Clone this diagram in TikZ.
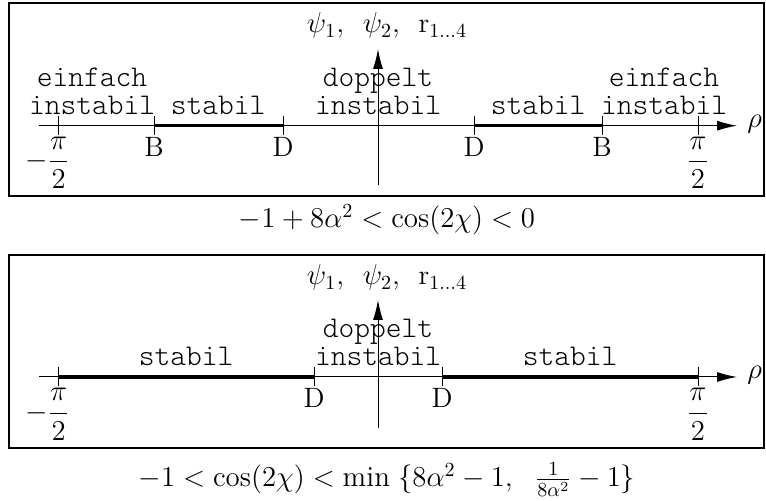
\documentclass[tikz,border=0pt]{standalone}
\usepackage{amsmath}
\usepackage{fontspec}
\newfontfamily\typefont{Latin Modern Mono Light}
\usetikzlibrary{arrows.meta,positioning}

\begin{document}
\begin{tikzpicture}[x=0.5pt, y=-0.5pt,
  panel/.style={draw, line width=0.6pt},
  axis/.style={-{Latex[length=10pt,width=5pt]}, line width=0.5pt},
  stable/.style={line width=1.8pt},
  tick/.style={line width=0.5pt},
  region/.style={align=center, anchor=south, inner sep=0pt,
                 font=\fontsize{15}{14}\typefont},
  ticklabel/.style={inner sep=0pt, font=\fontsize{14}{16}\selectfont},
  axlabel/.style={anchor=base, inner sep=0pt, font=\fontsize{14}{16}\selectfont},
  cond/.style={anchor=base, inner sep=0pt, font=\fontsize{14.5}{16}\selectfont}
]
  \useasboundingbox (0,0) rectangle (766,501);

  % oberes Feld
  \draw[panel] (9,3) rectangle (764,196);
  \coordinate (ax1w) at (39,125.7);
  \coordinate (ax1e) at (737,125.7);
  \coordinate (ay1s) at (378,185);
  \coordinate (ay1n) at (378,49);
  \coordinate (mpi1) at (58.7,125.7);
  \coordinate (b1l) at (154,125.7);
  \coordinate (d1l) at (283,125.7);
  \coordinate (d1r) at (474,125.7);
  \coordinate (b1r) at (602,125.7);
  \coordinate (pi1) at (698,125.7);

  \draw[axis] (ax1w) -- (ax1e);
  \draw[axis] (ay1s) -- (ay1n);
  \draw[stable] (b1l) -- (d1l);
  \draw[stable] (d1r) -- (b1r);
  \foreach \p in {mpi1,b1l,d1l,d1r,b1r,pi1}
    \draw[tick] (\p) ++(0,-9.5) -- ++(0,19);

  \node[anchor=west, inner sep=0pt, font=\fontsize{15}{16}\selectfont] (rho1) at (747,124) {$\rho$};
  \node[axlabel] (psi1) at (387,33) {$\psi_1,\ \,\psi_2,\ \,\mathrm{r}_{1\ldots4}$};

  \node[ticklabel, below=5.5pt of mpi1] (lmpi1) {\llap{$-$}$\dfrac{\pi}{2}$};
  \node[ticklabel, below=5.5pt of b1l] (lb1l) {B};
  \node[ticklabel, below=5.5pt of d1l] (ld1l) {D};
  \node[ticklabel, below=5.5pt of d1r] (ld1r) {D};
  \node[ticklabel, below=5.5pt of b1r] (lb1r) {B};
  \node[ticklabel, below=5.5pt of pi1] (lpi1) {$\dfrac{\pi}{2}$};

  \node[region] (ein1l) at (92,115) {einfach\\instabil};
  \node[region] (sta1l) at (218,115) {stabil};
  \node[region] (dop1) at (378,115) {doppelt\\instabil};
  \node[region] (sta1r) at (538,115) {stabil};
  \node[region] (ein1r) at (664,115) {einfach\\instabil};

  \node[cond] (cond1) at (387,228) {$-1+8\alpha^2<\cos(2\chi)<0$};

  % unteres Feld
  \draw[panel] (9,255) rectangle (764,448);
  \coordinate (ax2w) at (39,377);
  \coordinate (ax2e) at (737,377);
  \coordinate (ay2s) at (378,428);
  \coordinate (ay2n) at (378,300);
  \coordinate (mpi2) at (58.7,377);
  \coordinate (d2l) at (314,377);
  \coordinate (d2r) at (442,377);
  \coordinate (pi2) at (698,377);

  \draw[axis] (ax2w) -- (ax2e);
  \draw[axis] (ay2s) -- (ay2n);
  \draw[stable] (mpi2) -- (d2l);
  \draw[stable] (d2r) -- (pi2);
  \foreach \p in {mpi2,d2l,d2r,pi2}
    \draw[tick] (\p) ++(0,-9.5) -- ++(0,19);

  \node[anchor=west, inner sep=0pt, font=\fontsize{15}{16}\selectfont] (rho2) at (747,375) {$\rho$};
  \node[axlabel] (psi2) at (387,285) {$\psi_1,\ \,\psi_2,\ \,\mathrm{r}_{1\ldots4}$};

  \node[ticklabel, below=5.5pt of mpi2] (lmpi2) {\llap{$-$}$\dfrac{\pi}{2}$};
  \node[ticklabel, below=5.5pt of d2l] (ld2l) {D};
  \node[ticklabel, below=5.5pt of d2r] (ld2r) {D};
  \node[ticklabel, below=5.5pt of pi2] (lpi2) {$\dfrac{\pi}{2}$};

  \node[region] (sta2l) at (186,366) {stabil};
  \node[region] (dop2) at (378,366) {doppelt\\instabil};
  \node[region] (sta2r) at (570,366) {stabil};

  \node[cond] (cond2) at (387,487)
    {$-1<\cos(2\chi)<\min\;\{8\alpha^2-1,\;\ \frac{1}{8\alpha^2}-1\}$};
\end{tikzpicture}
\end{document}
